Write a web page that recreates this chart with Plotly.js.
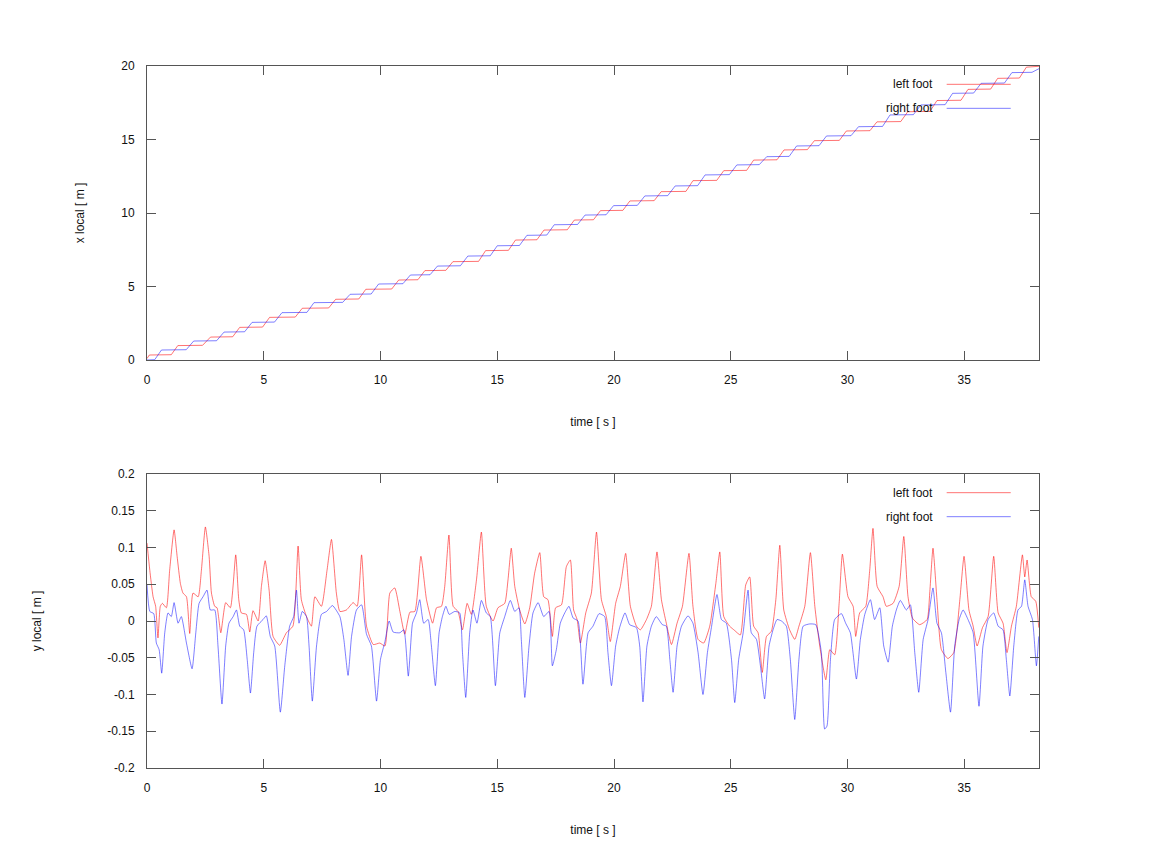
<!DOCTYPE html>
<html>
<head>
<meta charset="utf-8">
<title>foot position (local frame)</title>
<script src="https://cdn.plot.ly/plotly-3.0.1.min.js"></script>
<style>
    html, body { margin: 0; padding: 0; background: #fff; }
    #foot-chart { width: 1150px; height: 862px; }
</style>
</head>
<body>
<div id="foot-chart"></div>
<script>
// Foot trajectories in the local frame

// x local [m] - staircase corners (left foot)
const leftXTime = [0.00, 0.10, 1.04, 1.32, 2.38, 2.72, 3.67, 3.97, 4.95, 5.25, 6.35, 6.65, 7.78, 8.08,
    9.07, 9.37, 10.48, 10.78, 11.60, 11.90, 12.80, 13.10, 14.20, 14.50, 15.48, 15.78, 16.70, 17.00,
    18.00, 18.30, 19.12, 19.42, 20.38, 20.68, 21.72, 22.02, 23.08, 23.38, 24.40, 24.70, 25.68, 25.98,
    26.98, 27.28, 28.28, 28.58, 29.65, 29.95, 30.96, 31.26, 32.28, 32.58, 33.53, 33.83, 34.86, 35.16,
    36.13, 36.43, 37.36, 37.66, 38.20];
const leftX = [0.10, 0.34, 0.36, 0.98, 1.00, 1.56, 1.58, 2.22, 2.24, 2.90, 2.92, 3.52, 3.54, 4.13,
    4.15, 4.81, 4.83, 5.44, 5.46, 6.08, 6.10, 6.69, 6.71, 7.44, 7.46, 8.16, 8.18, 8.84,
    8.86, 9.52, 9.54, 10.16, 10.18, 10.82, 10.84, 11.45, 11.47, 12.20, 12.22, 12.88, 12.90, 13.60,
    13.62, 14.29, 14.31, 14.92, 14.94, 15.58, 15.60, 16.20, 16.22, 16.89, 16.91, 17.65, 17.67, 18.41,
    18.43, 19.16, 19.18, 19.92, 19.98];

// x local [m] - staircase corners (right foot)
const rightXTime = [0.00, 0.33, 0.62, 1.68, 2.00, 2.98, 3.30, 4.18, 4.50, 5.46, 5.78, 6.85, 7.15, 8.38,
    8.70, 9.60, 9.92, 10.96, 11.28, 12.12, 12.44, 13.42, 13.74, 14.70, 15.00, 15.95, 16.27, 17.12,
    17.44, 18.44, 18.76, 19.66, 19.98, 21.00, 21.32, 22.30, 22.62, 23.58, 23.90, 24.94, 25.26, 26.22,
    26.54, 27.50, 27.82, 28.78, 29.10, 30.15, 30.47, 31.50, 31.82, 32.82, 33.14, 34.18, 34.50, 35.40,
    35.72, 36.72, 37.04, 37.90, 38.20];
const rightX = [0.00, 0.02, 0.68, 0.70, 1.29, 1.31, 1.90, 1.92, 2.56, 2.58, 3.22, 3.24, 3.90, 3.92,
    4.47, 4.49, 5.17, 5.19, 5.78, 5.80, 6.39, 6.41, 7.07, 7.09, 7.77, 7.79, 8.48, 8.50,
    9.20, 9.22, 9.86, 9.88, 10.50, 10.52, 11.16, 11.18, 11.84, 11.86, 12.59, 12.61, 13.27, 13.29,
    13.83, 13.85, 14.56, 14.58, 15.24, 15.26, 15.87, 15.89, 16.67, 16.69, 17.35, 17.37, 18.14, 18.16,
    18.82, 18.84, 19.55, 19.57, 19.82];

// y local [m] - left foot
const leftYTime = [0.00, 0.12, 0.26, 0.37, 0.47, 0.57, 0.66, 0.83, 0.97, 1.16, 1.29, 1.43, 1.54, 1.69,
    1.83, 1.97, 2.19, 2.33, 2.50, 2.66, 2.76, 2.90, 3.00, 3.16, 3.37, 3.57, 3.80, 3.93, 4.04, 4.26,
    4.40, 4.54, 4.76, 4.90, 5.06, 5.23, 5.40, 5.68, 5.97, 6.25, 6.47, 6.61, 6.83, 7.04, 7.19, 7.47,
    7.71, 7.90, 8.11, 8.26, 8.54, 8.83, 9.00, 9.19, 9.40, 9.69, 9.97, 10.19, 10.40, 10.61, 10.83, 11.04,
    11.26, 11.47, 11.73, 11.97, 12.23, 12.40, 12.61, 12.75, 12.93, 13.11, 13.32, 13.51, 13.71, 13.89,
    14.11, 14.32, 14.53, 14.82, 15.03, 15.32, 15.46, 15.60, 15.75, 15.96, 16.18, 16.39, 16.60, 16.82,
    16.99, 17.17, 17.36, 17.50, 17.75, 17.96, 18.13, 18.27, 18.42, 18.56, 18.79, 19.03, 19.25, 19.46,
    19.67, 19.84, 20.07, 20.27, 20.50, 20.70, 20.96, 21.13, 21.39, 21.60, 21.84, 22.03, 22.24, 22.46,
    22.70, 22.93, 23.21, 23.38, 23.60, 23.84, 24.10, 24.36, 24.53, 24.70, 24.95, 25.17, 25.41, 25.64,
    25.81, 25.98, 26.17, 26.35, 26.53, 26.74, 26.93, 27.10, 27.27, 27.52, 27.74, 27.92, 28.17, 28.41,
    28.60, 28.81, 29.07, 29.24, 29.45, 29.64, 29.78, 30.02, 30.24, 30.35, 30.52, 30.78, 30.95, 31.09,
    31.27, 31.52, 31.66, 31.95, 32.21, 32.41, 32.59, 32.78, 33.09, 33.41, 33.52, 33.66, 33.83, 34.02,
    34.30, 34.55, 34.81, 34.99, 35.20, 35.38, 35.55, 35.78, 36.02, 36.26, 36.45, 36.66, 36.83, 37.02,
    37.23, 37.49, 37.59, 37.69, 37.87, 38.06, 38.19];
const leftY = [0.106, 0.069, 0.033, 0.020, -0.023, 0.020, 0.024, 0.018, 0.069, 0.124, 0.088, 0.051, 0.038, 0.033,
    -0.017, 0.038, 0.033, 0.069, 0.128, 0.088, 0.038, 0.020, 0.018, -0.016, 0.025, 0.018, 0.090, 0.029, 0.011, 0.009,
    -0.015, 0.014, 0.000, 0.047, 0.082, 0.042, -0.021, -0.033, -0.016, -0.007, 0.102, 0.029, 0.006, -0.007, 0.033, 0.020,
    0.069, 0.111, 0.038, 0.013, 0.015, 0.025, 0.020, 0.090, -0.007, -0.032, -0.030, -0.034, 0.038, 0.045, 0.013, -0.018,
    0.012, 0.013, 0.088, 0.029, -0.003, 0.018, 0.020, 0.047, 0.117, 0.020, 0.013, -0.012, 0.024, 0.009,
    0.056, 0.121, 0.020, 0.000, 0.018, 0.024, 0.056, 0.099, 0.047, 0.015, -0.004, 0.018, 0.065, 0.093,
    0.033, 0.029, -0.021, 0.018, 0.022, 0.074, 0.083, 0.015, 0.002, -0.030, 0.011, 0.038, 0.121, 0.029,
    0.006, -0.028, 0.024, 0.047, 0.092, 0.020, -0.007, -0.012, 0.002, 0.020, 0.094, 0.029, -0.003, -0.032,
    -0.003, 0.020, 0.092, 0.020, -0.025, -0.030, -0.007, 0.051, 0.094, 0.006, -0.007, -0.013, -0.019, 0.049,
    0.060, -0.007, -0.016, -0.070, -0.021, -0.014, 0.029, 0.103, 0.015, -0.012, -0.025, -0.007, 0.020, 0.093,
    0.020, -0.034, -0.080, -0.039, -0.046, 0.024, 0.091, 0.033, 0.020, -0.021, 0.011, 0.020, 0.069, 0.126,
    0.047, 0.033, 0.020, 0.024, 0.047, 0.115, 0.033, 0.004, -0.005, 0.002, 0.038, 0.099, 0.029, -0.039,
    -0.051, -0.043, 0.029, 0.088, 0.015, -0.007, -0.034, -0.009, 0.006, 0.088, 0.011, -0.003, -0.043, -0.007,
    0.020, 0.090, 0.060, 0.083, 0.033, 0.027, -0.009];

// y local [m] - right foot
const rightYTime = [0.00, 0.12, 0.29, 0.40, 0.52, 0.63, 0.76, 0.90, 1.04, 1.16, 1.33, 1.47, 1.69, 1.93,
    2.09, 2.23, 2.40, 2.57, 2.71, 2.90, 3.04, 3.21, 3.37, 3.51, 3.69, 3.83, 3.97, 4.14, 4.29, 4.43,
    4.57, 4.71, 4.97, 5.11, 5.28, 5.47, 5.71, 5.90, 6.11, 6.28, 6.40, 6.51, 6.65, 6.83, 6.94, 7.08,
    7.26, 7.47, 7.69, 7.94, 8.26, 8.43, 8.61, 8.76, 8.97, 9.19, 9.40, 9.61, 9.83, 10.00, 10.19, 10.37,
    10.54, 10.83, 11.00, 11.19, 11.37, 11.54, 11.68, 11.85, 12.04, 12.18, 12.35, 12.51, 12.65, 12.80,
    12.94, 13.18, 13.39, 13.51, 13.65, 13.82, 13.96, 14.13, 14.32, 14.53, 14.70, 14.92, 15.11, 15.32,
    15.56, 15.75, 15.93, 16.03, 16.18, 16.36, 16.53, 16.75, 16.99, 17.22, 17.36, 17.53, 17.70, 17.89,
    18.07, 18.25, 18.46, 18.67, 18.89, 19.10, 19.36, 19.60, 19.74, 19.89, 20.07, 20.24, 20.47, 20.67,
    20.96, 21.10, 21.24, 21.41, 21.60, 21.81, 22.07, 22.24, 22.39, 22.53, 22.70, 22.89, 23.17, 23.38,
    23.60, 23.81, 24.00, 24.17, 24.41, 24.60, 24.81, 25.03, 25.17, 25.34, 25.53, 25.74, 25.88, 26.10,
    26.27, 26.45, 26.64, 26.81, 26.98, 27.17, 27.38, 27.55, 27.74, 27.92, 28.10, 28.38, 28.64, 28.88,
    29.02, 29.12, 29.27, 29.45, 29.74, 29.92, 30.12, 30.38, 30.55, 30.74, 30.98, 31.16, 31.38, 31.55,
    31.74, 31.92, 32.09, 32.26, 32.52, 32.69, 32.88, 33.05, 33.24, 33.45, 33.66, 33.83, 34.02, 34.21,
    34.41, 34.59, 34.78, 34.95, 35.16, 35.38, 35.63, 35.80, 36.02, 36.26, 36.45, 36.66, 36.80, 36.95,
    37.12, 37.30, 37.45, 37.59, 37.73, 37.92, 38.09, 38.19];
const rightY = [0.049, 0.013, 0.010, -0.030, -0.039, -0.071, -0.016, 0.011, 0.006, 0.025, -0.003, 0.006, -0.030, -0.065,
    -0.016, 0.024, 0.033, 0.042, 0.015, 0.015, -0.034, -0.113, -0.034, -0.003, 0.006, 0.015, -0.007, -0.012, -0.052, -0.098,
    -0.043, -0.007, 0.002, 0.007, -0.021, -0.034, -0.124, -0.061, -0.007, 0.006, 0.042, -0.003, 0.013, 0.006, -0.034, -0.109,
    -0.034, 0.009, 0.013, 0.021, 0.006, -0.025, -0.074, -0.021, 0.015, 0.022, -0.018, -0.034, -0.109, -0.052, -0.028, 0.000,
    -0.015, -0.016, -0.012, -0.075, -0.003, 0.011, 0.029, -0.003, 0.002, -0.034, -0.088, -0.016, 0.006, 0.020,
    0.009, 0.013, 0.011, -0.043, -0.104, -0.016, 0.015, -0.003, 0.028, 0.011, 0.006, -0.088, -0.016, 0.006,
    0.028, 0.013, 0.018, -0.025, -0.104, -0.034, 0.011, 0.025, 0.006, 0.013, -0.061, -0.039, -0.003, 0.011,
    0.020, 0.004, 0.000, -0.086, -0.016, -0.007, 0.010, 0.006, -0.043, -0.088, -0.034, -0.009, 0.011, -0.005,
    -0.009, -0.034, -0.110, -0.034, -0.007, 0.006, -0.005, -0.007, -0.052, -0.097, -0.034, -0.007, 0.007, -0.003,
    -0.043, -0.100, -0.043, -0.009, 0.036, 0.002, -0.003, -0.052, -0.111, -0.052, -0.016, 0.042, -0.016, -0.025,
    -0.061, -0.106, -0.034, -0.012, 0.002, 0.000, -0.007, -0.052, -0.134, -0.052, -0.007, -0.004, -0.005, -0.043,
    -0.147, -0.143, -0.052, 0.002, 0.010, -0.003, -0.016, -0.079, -0.025, 0.009, 0.029, 0.002, 0.018, -0.034,
    -0.056, -0.007, 0.015, 0.028, 0.015, 0.022, -0.043, -0.097, -0.025, 0.002, 0.045, -0.003, -0.016, -0.070,
    -0.124, -0.034, 0.002, 0.015, 0.002, -0.016, -0.116, -0.034, 0.002, 0.011, -0.007, -0.012, -0.052, -0.102,
    -0.034, 0.015, 0.020, 0.056, 0.020, 0.002, -0.061, -0.021];

// tick values / labels (gnuplot style, plain hyphen minus)
const timeTicks = [0, 5, 10, 15, 20, 25, 30, 35];
const xLocalTicks = [0, 5, 10, 15, 20];
const yLocalTicks = [-0.2, -0.15, -0.1, -0.05, 0, 0.05, 0.1, 0.15, 0.2];
const yLocalTickText = ['-0.2', '-0.15', '-0.1', '-0.05', '0', '0.05', '0.1', '0.15', '0.2'];

const LEFT_COLOR = 'rgba(255,0,0,0.55)';
const RIGHT_COLOR = 'rgba(0,0,255,0.5)';
const FONT = { family: '"Liberation Sans", Arial, sans-serif', size: 12, color: '#111' };

document.addEventListener('DOMContentLoaded', function() {
    // bottom panel is a sampled signal, smooth it a little between the read points
    const yLine = (color) => ({ color: color, width: 1, shape: 'spline', smoothing: 0.5 });

    const traces = [
        { x: leftXTime, y: leftX, xaxis: 'x', yaxis: 'y', name: 'left foot', type: 'scatter', mode: 'lines',
          line: { color: LEFT_COLOR, width: 1 } },
        { x: rightXTime, y: rightX, xaxis: 'x', yaxis: 'y', name: 'right foot', type: 'scatter', mode: 'lines',
          line: { color: RIGHT_COLOR, width: 1 } },
        { x: leftYTime, y: leftY, xaxis: 'x2', yaxis: 'y2', name: 'left foot', type: 'scatter', mode: 'lines',
          line: yLine(LEFT_COLOR) },
        { x: rightYTime, y: rightY, xaxis: 'x2', yaxis: 'y2', name: 'right foot', type: 'scatter', mode: 'lines',
          line: yLine(RIGHT_COLOR) }
    ];

    // shared look of all four axes: closed box, inside ticks on both sides
    const axisBase = {
        showline: true, linecolor: '#555', linewidth: 1, mirror: 'ticks',
        ticks: 'inside', ticklen: 9, tickcolor: '#555', tickwidth: 1,
        showgrid: false, zeroline: false, tickfont: FONT, ticklabelstandoff: 9
    };

    const timeAxis = (anchor) => ({
        ...axisBase, anchor: anchor, range: [0, 38.2], tickmode: 'array', tickvals: timeTicks,
        title: { text: 'time [ s ]', font: FONT, standoff: 31 }
    });

    // legend drawn as gnuplot key: text first, sample line on the right
    const keyText = [
        { label: 'left foot', y: 0.9739 }, { label: 'right foot', y: 0.9397 },
        { label: 'left foot', y: 0.3922 }, { label: 'right foot', y: 0.3580 }
    ];
    const annotations = keyText.map(k => ({
        text: k.label, xref: 'paper', yref: 'paper', x: 0.8838, y: k.y,
        xanchor: 'right', yanchor: 'middle', showarrow: false, font: FONT
    }));
    const shapes = keyText.map((k, i) => ({
        type: 'line', xref: 'paper', yref: 'paper', x0: 0.8965, x1: 0.9683, y0: k.y, y1: k.y,
        line: { color: i % 2 === 0 ? LEFT_COLOR : RIGHT_COLOR, width: 1 }
    }));

    const layout = {
        width: 1150, height: 862,
        margin: { l: 147, r: 111, t: 66, b: 94 },
        paper_bgcolor: '#fff', plot_bgcolor: '#fff',
        font: FONT, showlegend: false,
        xaxis: timeAxis('y'),
        yaxis: {
            ...axisBase, domain: [0.5812, 1], anchor: 'x', range: [0, 20],
            tickmode: 'array', tickvals: xLocalTicks,
            title: { text: 'x local [ m ]', font: FONT, standoff: 34 }
        },
        xaxis2: timeAxis('y2'),
        yaxis2: {
            ...axisBase, domain: [0, 0.4188], anchor: 'x2', range: [-0.2, 0.2],
            tickmode: 'array', tickvals: yLocalTicks, ticktext: yLocalTickText,
            title: { text: 'y local [ m ]', font: FONT, standoff: 63 }
        },
        annotations: annotations,
        shapes: shapes
    };

    Plotly.newPlot('foot-chart', traces, layout, { staticPlot: true, displayModeBar: false });
});
</script>
</body>
</html>
